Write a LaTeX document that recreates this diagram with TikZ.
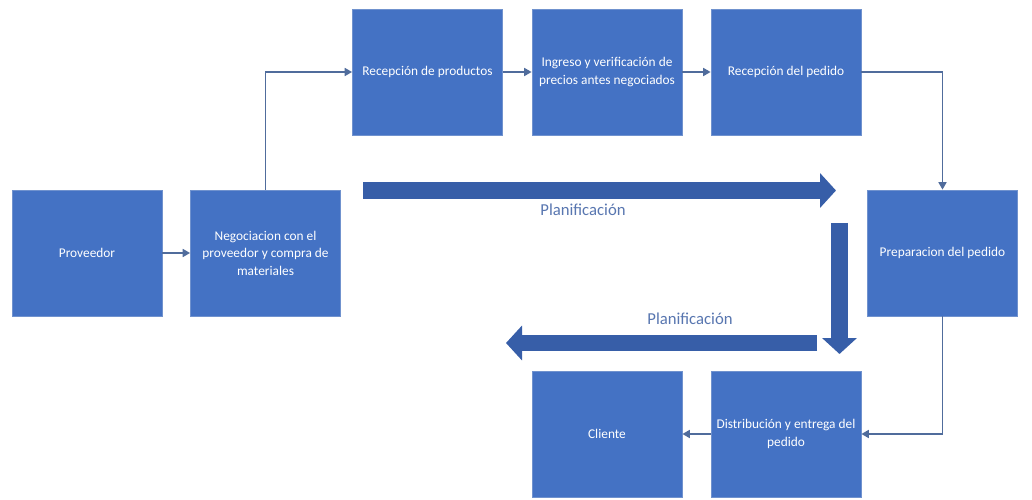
\documentclass[tikz,border=0pt]{standalone}
\usepackage{fontspec}
\setmainfont{Carlito}
\usepackage{tikz}
\usetikzlibrary{positioning}
\usetikzlibrary{arrows.meta,calc}
\definecolor{boxblue}{RGB}{68,114,196}
\definecolor{boxedge}{RGB}{112,146,206}
\definecolor{bigblue}{RGB}{55,94,168}
\definecolor{linkblue}{RGB}{80,108,156}
\definecolor{labelblue}{RGB}{88,118,176}
\tikzstyle{stage}=[rectangle,fill=boxblue,draw=boxedge,line width=0.5pt,minimum width=3cm,minimum height=2.52cm,inner sep=2pt,text=white,align=center,font=\fontsize{7.6}{10}\selectfont]
\tikzstyle{link} = [draw,line width=0.8pt,linkblue,-{Triangle[width=4.6pt,length=4.2pt]}]
\tikzstyle{bigarrow} = [draw,line width=0.34cm,bigblue,-{Triangle[width=0.68cm,length=0.32cm]}]
\tikzstyle{plan} = [text=labelblue,font=\fontsize{9.5}{11}\selectfont]

\begin{document}
\begin{tikzpicture}[x=0.02cm,y=-0.02cm]
    \useasboundingbox[fill=white] (0,0) rectangle (1032,500);
    % First we draw the stages
    \foreach \pos/\name/\label in {{(87,253)/prov/Proveedor}, {(265.5,253)/nego/Negociacion con el\\proveedor y compra de\\materiales}, {(427.5,72)/recprod/Recepción de productos}, {(607,72)/ingr/Ingreso y verificación de\\precios antes negociados}, {(786,72)/recped/Recepción del pedido}, {(942.5,253)/prep/Preparacion del pedido}, {(607,434)/clie/Cliente}, {(786,434)/dist/Distribución y entrega del\\pedido}}
        \node[stage] (\name) at \pos {\label};

    % Connect stages with links
  \foreach \source/ \dest in {prov/nego, recprod/ingr, ingr/recped, dist/clie}
          \path[link] (\source) -- (\dest);
  \path[link] (nego.north) |- (recprod.west);
  \path[link] (recped.east) -| (prep.north);
  \path[link] (prep.south) |- (dist.east);

    % Planning arrows
  \coordinate (p1a) at (363,190.5);
  \coordinate (p1b) at (836,190.5);
  \coordinate (p2a) at (839.5,223);
  \coordinate (p2b) at (839.5,354);
  \coordinate (p3a) at (817,343);
  \coordinate (p3b) at (506,343);
  \path[bigarrow] (p1a) -- (p1b);
  \path[bigarrow] (p2a) -- (p2b);
  \path[bigarrow] (p3a) -- (p3b);

  \node[plan] (plan1) at (583,210) {Planificación};
  \node[plan] (plan2) at (690,319) {Planificación};
\end{tikzpicture}
\end{document}
